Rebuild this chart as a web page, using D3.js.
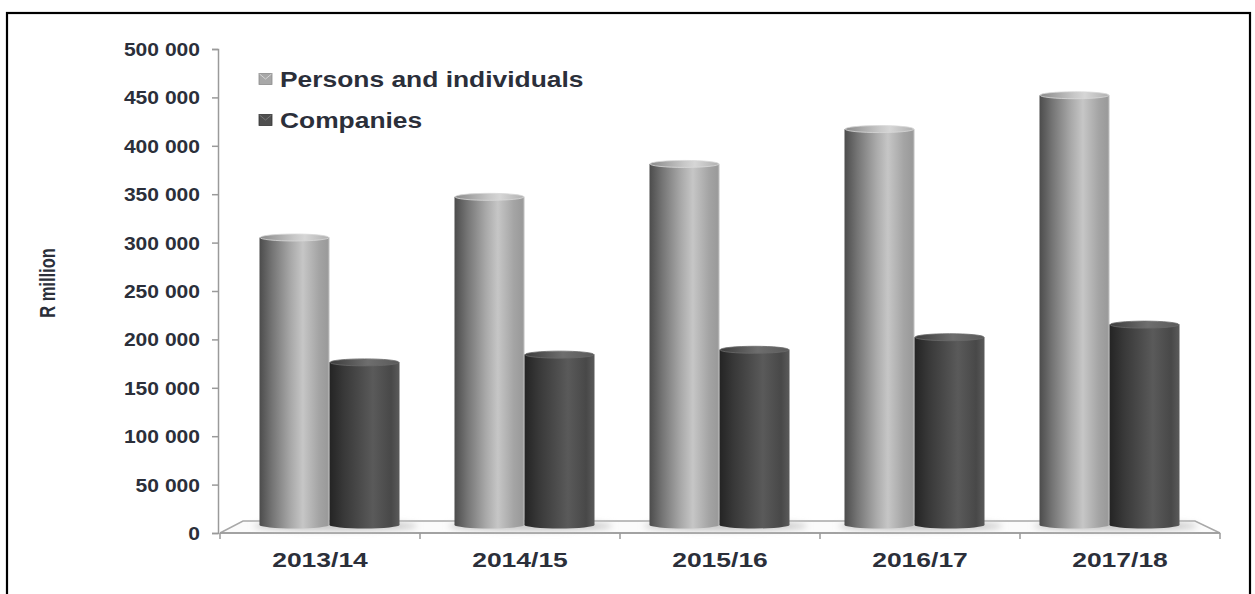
<!DOCTYPE html>
<html>
<head>
<meta charset="utf-8">
<script src="https://cdn.jsdelivr.net/npm/d3@7"></script>
<style>
  html, body { margin: 0; padding: 0; background: #fff; }
  svg { display: block; }
  text { font-family: "Liberation Sans", Arial, sans-serif; font-weight: bold; fill: #2b2f3a; }
</style>
</head>
<body>
<svg id="chart" width="1255" height="594"></svg>
<script>
// Tax assessed, R million
const categories = ["2013/14", "2014/15", "2015/16", "2016/17", "2017/18"];
const seriesNames = ["Persons and individuals", "Companies"];
const persons = [297000, 339000, 373000, 409000, 444000];
const companies = [168000, 176000, 181000, 194000, 207000];
const yTicks = [0, 50000, 100000, 150000, 200000, 250000, 300000, 350000, 400000, 450000, 500000];
const yTitle = "R million";

const svg = d3.select("#chart");
const defs = svg.append("defs");

// outer frame
svg.append("rect")
  .attr("x", 7).attr("y", 13).attr("width", 1243).attr("height", 600)
  .attr("fill", "none").attr("stroke", "#000").attr("stroke-width", 2.2);

// scales
const y = d3.scaleLinear().domain([0, 500000]).range([533, 49]);
const xFront = d3.scaleBand().domain(categories).range([220, 1220]).padding(0);
// bars stand a little further back on the floor, so the band is slightly narrower
const xBar = d3.scaleBand().domain(categories).range([232, 1207]).paddingInner(0.282).paddingOuter(0.141);
const xSeries = d3.scaleBand().domain(seriesNames).range([0, xBar.bandwidth()]).padding(0);
const depth = 8;   // vertical lift of the bar bases above the front edge

// gradients for the cylinders
function cylGradient(id, stops) {
  const g = defs.append("linearGradient").attr("id", id)
    .attr("x1", "0%").attr("x2", "100%").attr("y1", "0%").attr("y2", "0%");
  stops.forEach(s => g.append("stop").attr("offset", s[0]).attr("stop-color", s[1]));
}
cylGradient("gPers", [["0%", "#4c4c4c"], ["18%", "#747474"], ["45%", "#a9a9a9"], ["62%", "#c6c6c6"], ["85%", "#a4a4a4"], ["97%", "#9a9a9a"], ["100%", "#c0c0c0"]]);
cylGradient("gPersCap", [["0%", "#8a8a8a"], ["50%", "#c8c8c8"], ["65%", "#d6d6d6"], ["100%", "#b0b0b0"]]);
cylGradient("gComp", [["0%", "#242424"], ["20%", "#383838"], ["50%", "#505050"], ["62%", "#5a5a5a"], ["88%", "#484848"], ["100%", "#5a5a5a"]]);
cylGradient("gCompCap", [["0%", "#3c3c3c"], ["55%", "#6e6e6e"], ["100%", "#5a5a5a"]]);
const fills = { "Persons and individuals": ["url(#gPers)", "url(#gPersCap)"], "Companies": ["url(#gComp)", "url(#gCompCap)"] };

defs.append("filter").attr("id", "soft").attr("x", "-20%").attr("y", "-200%").attr("width", "140%").attr("height", "500%")
  .append("feGaussianBlur").attr("stdDeviation", 3);

// floor
const floorBackY = 521;
svg.append("polygon")
  .attr("points", [[220, 533], [243, floorBackY], [1195, floorBackY], [1220, 533]].map(p => p.join(",")).join(" "))
  .attr("fill", "#fbfbfb").attr("stroke", "#a8a8a8").attr("stroke-width", 1.5);

// y axis
const yAxis = d3.axisLeft(y).tickValues(yTicks).tickSize(6)
  .tickFormat(d => d3.format(",")(d).replace(/,/g, " "));
const yg = svg.append("g").attr("transform", "translate(218,0)").call(yAxis);
yg.select(".domain").attr("stroke", "#9a9a9a").attr("stroke-width", 1.5);
yg.selectAll(".tick line").attr("stroke", "#9a9a9a").attr("stroke-width", 1.5);
yg.selectAll(".tick text")
  .attr("x", -18 / 1.17).attr("dy", "0.36em")
  .attr("transform", "scale(1.17,1)")
  .style("font-size", "18px").style("font-family", "'Liberation Sans', Arial, sans-serif")
  .style("font-weight", "bold").attr("fill", "#2b2f3a");

// x axis: front edge, boundary ticks and labels
svg.append("line").attr("x1", 220).attr("x2", 1220).attr("y1", 533).attr("y2", 533)
  .attr("stroke", "#9a9a9a").attr("stroke-width", 1.5);
const bounds = categories.map(c => xFront(c)).concat([xFront(categories[categories.length - 1]) + xFront.step()]);
svg.selectAll("line.xtick").data(bounds).enter().append("line").attr("class", "xtick")
  .attr("x1", d => d).attr("x2", d => d).attr("y1", 533).attr("y2", 539)
  .attr("stroke", "#9a9a9a").attr("stroke-width", 1.5);
const xAxis = d3.axisBottom(xFront).tickSize(0).tickPadding(0);
const xg = svg.append("g").attr("transform", "translate(0,533)").call(xAxis);
xg.select(".domain").remove();
xg.selectAll(".tick text")
  .attr("y", 34).attr("dy", 0)
  .attr("transform", "scale(1.26,1)")
  .style("font-size", "21px").style("font-family", "'Liberation Sans', Arial, sans-serif")
  .style("font-weight", "bold").attr("fill", "#2b2f3a");

// soft shadows on the floor beneath each pair
svg.selectAll("ellipse.shadow").data(categories).enter().append("ellipse").attr("class", "shadow")
  .attr("cx", c => xBar(c) + xBar.bandwidth() / 2 + 6)
  .attr("cy", y(0) - depth + 1)
  .attr("rx", xBar.bandwidth() / 2 + 12).attr("ry", 5)
  .attr("fill", "#c8c8c8").attr("filter", "url(#soft)");

// cylinders
const rows = [];
categories.forEach((c, i) => {
  rows.push({ cat: c, series: seriesNames[0], value: persons[i] });
  rows.push({ cat: c, series: seriesNames[1], value: companies[i] });
});
const ry = 3.5;
const bars = svg.selectAll("g.bar").data(rows).enter().append("g").attr("class", "bar");
bars.append("ellipse")
  .attr("cx", d => xBar(d.cat) + xSeries(d.series) + xSeries.bandwidth() / 2)
  .attr("cy", y(0) - depth)
  .attr("rx", xSeries.bandwidth() / 2).attr("ry", ry)
  .attr("fill", d => fills[d.series][0]);
bars.append("rect")
  .attr("x", d => xBar(d.cat) + xSeries(d.series))
  .attr("y", d => y(d.value) - depth)
  .attr("width", xSeries.bandwidth())
  .attr("height", d => y(0) - y(d.value))
  .attr("fill", d => fills[d.series][0]);
bars.append("ellipse")
  .attr("cx", d => xBar(d.cat) + xSeries(d.series) + xSeries.bandwidth() / 2)
  .attr("cy", d => y(d.value) - depth)
  .attr("rx", xSeries.bandwidth() / 2 - 0.5).attr("ry", ry)
  .attr("fill", d => fills[d.series][1])
  .attr("stroke", d => d.series === seriesNames[0] ? "#d8d8d8" : "#6a6a6a").attr("stroke-width", 0.8);

// legend
const lg = svg.append("g");
seriesNames.forEach((name, i) => {
  const cy = 79 + i * 41;
  lg.append("rect").attr("x", 259).attr("y", cy - 5.5).attr("width", 13).attr("height", 11)
    .attr("fill", i === 0 ? "#a8a8a8" : "#505050").attr("stroke", i === 0 ? "#8a8a8a" : "#333").attr("stroke-width", 0.8);
  lg.append("path")
    .attr("d", `M259.5,${cy - 5} L265.5,${cy} L271.5,${cy - 5}`)
    .attr("fill", "none").attr("stroke", i === 0 ? "#d5d5d5" : "#777").attr("stroke-width", 1);
  lg.append("g").attr("transform", `translate(280,${cy + 7.5}) scale(1.2,1)`)
    .append("text").attr("x", 0).attr("y", 0)
    .style("font-size", "22px").text(name);
});

// y axis title (rotated; letters widened across the page like the other labels)
svg.append("text")
  .attr("transform", "translate(55,283) rotate(-90) scale(1,1.35)")
  .attr("text-anchor", "middle")
  .style("font-size", "16.5px")
  .text(yTitle);
</script>
</body>
</html>
